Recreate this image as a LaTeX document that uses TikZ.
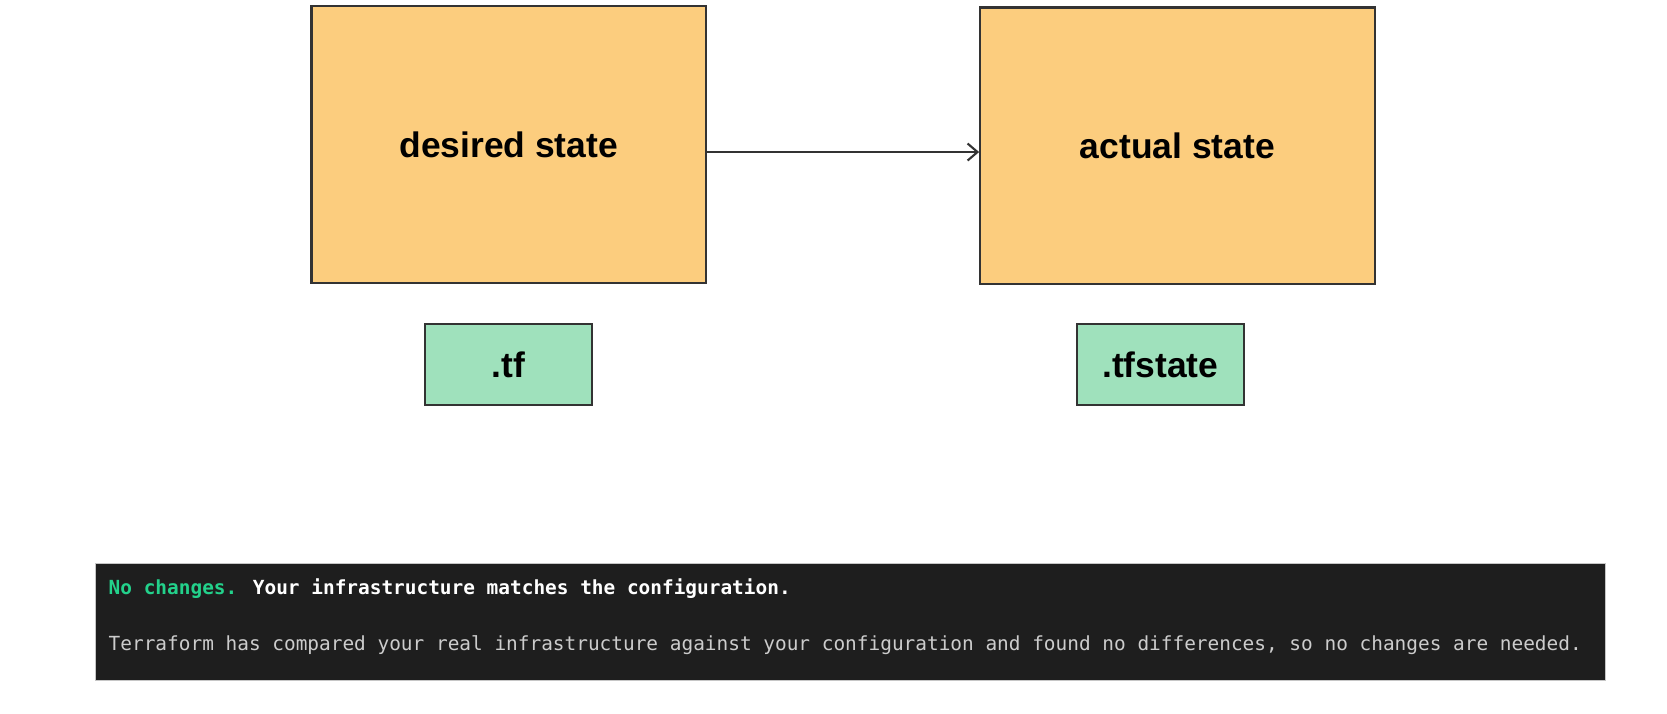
\documentclass[tikz,border=0pt]{standalone}
\usepackage{fontspec}
\setmainfont{Liberation Sans}
\newfontfamily\termfont{DejaVu Sans Mono}
\usepackage{xcolor}
\usepackage{tikz}
\usetikzlibrary{arrows.meta}

\definecolor{stateorange}{HTML}{FCCD7E}
\definecolor{filegreen}{HTML}{9FE1BC}
\definecolor{edgegray}{HTML}{333333}
\definecolor{termbg}{HTML}{1E1E1E}
\definecolor{termgreen}{HTML}{23D18B}
\definecolor{termtext}{HTML}{CCCCCC}

\begin{document}
\begin{tikzpicture}[x=0.75pt,y=0.75pt,yscale=-1,xscale=1,
  statebox/.style={draw=edgegray,line width=1.5pt,fill=stateorange,minimum width=278.25pt,minimum height=195pt,inner sep=0pt,font=\fontsize{25}{30}\selectfont\bfseries},
  filebox/.style={draw=edgegray,line width=1.5pt,fill=filegreen,minimum width=117.75pt,minimum height=57pt,inner sep=0pt,font=\fontsize{25}{30}\selectfont\bfseries},
  termline/.style={anchor=west,inner sep=0pt,font=\termfont\fontsize{13.7}{16}\selectfont}]

\useasboundingbox (0,0) rectangle (1568,670.7);

% state boxes
\node (desired) at (478.5,136) [statebox] {desired state};
\node (actual) at (1107.5,137) [statebox] {actual state};

\draw [edgegray,line width=1.5pt,-{Straight Barb[length=7pt,width=12pt,line width=1.5pt]}] (desired.east |- 0,143) -- (actual.west |- 0,143);

% files
\node (tf) at (478.5,343) [filebox] {.tf};
\node (tfstate) at (1091.5,343) [filebox] {.tfstate};

% terminal output
\node (term) at (800,585) [fill=termbg,draw=gray!45,line width=0.8pt,minimum width=1065pt,minimum height=82.5pt,inner sep=0pt] {};
\node (msg) at (102,554) [termline] {\textcolor{termgreen}{\bfseries No changes.} \textcolor{white}{\bfseries Your infrastructure matches the configuration.}};
\node (detail) at (102,607) [termline,text=termtext] {Terraform has compared your real infrastructure against your configuration and found no differences, so no changes are needed.};

\end{tikzpicture}
\end{document}
